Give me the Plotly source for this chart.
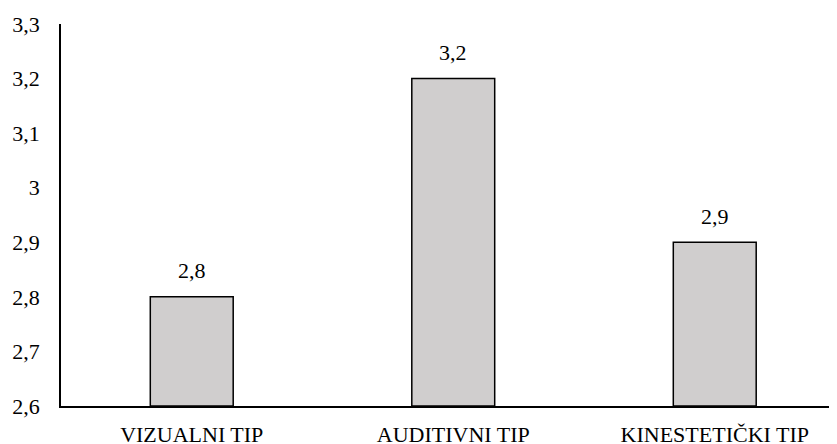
import plotly.graph_objects as go

categories = ["VIZUALNI TIP", "AUDITIVNI TIP", "KINESTETIČKI TIP"]
values = [2.8, 3.2, 2.9]
value_labels = ["2,8", "3,2", "2,9"]
y_tickvals = [2.6, 2.7, 2.8, 2.9, 3.0, 3.1, 3.2, 3.3]
y_ticktext = ["2,6", "2,7", "2,8", "2,9", "3", "3,1", "3,2", "3,3"]
y_min = 2.6

font_family = "'Liberation Serif', 'Times New Roman', 'DejaVu Serif', serif"

fig = go.Figure()
fig.add_trace(go.Bar(
    x=categories, y=[v - y_min for v in values],
    base=y_min,
    marker=dict(color="#D0CECE", line=dict(color="#000000", width=1.5)),
    width=0.317,
))

for c, v, t in zip(categories, values, value_labels):
    fig.add_annotation(x=c, y=v, text=t, showarrow=False, yshift=26,
                       font=dict(family=font_family, size=22, color="#000"))

# page has an 8px body margin, so the figure is shrunk to fit the 837x444 window
fig.update_layout(
    template="none",
    width=829, height=436,
    margin=dict(l=53, r=0, t=16, b=38),
    paper_bgcolor="white", plot_bgcolor="white",
    showlegend=False,
    font=dict(family=font_family, size=22, color="#000"),
)
fig.update_yaxes(range=[2.6, 3.3], tickvals=y_tickvals, ticktext=y_ticktext,
                 tickfont=dict(family=font_family, size=22, color="#000"),
                 showgrid=False, zeroline=False, showline=True, linecolor="#000",
                 linewidth=1.5, ticks="", ticklabelstandoff=15, automargin=False)
fig.update_xaxes(range=[-0.5, 2.4675], showgrid=False, showline=True,
                 tickfont=dict(family=font_family, size=22, color="#000"),
                 linecolor="#000", linewidth=1.5,
                 ticks="", ticklabelstandoff=8, automargin=False)

fig.write_html("out.html")
